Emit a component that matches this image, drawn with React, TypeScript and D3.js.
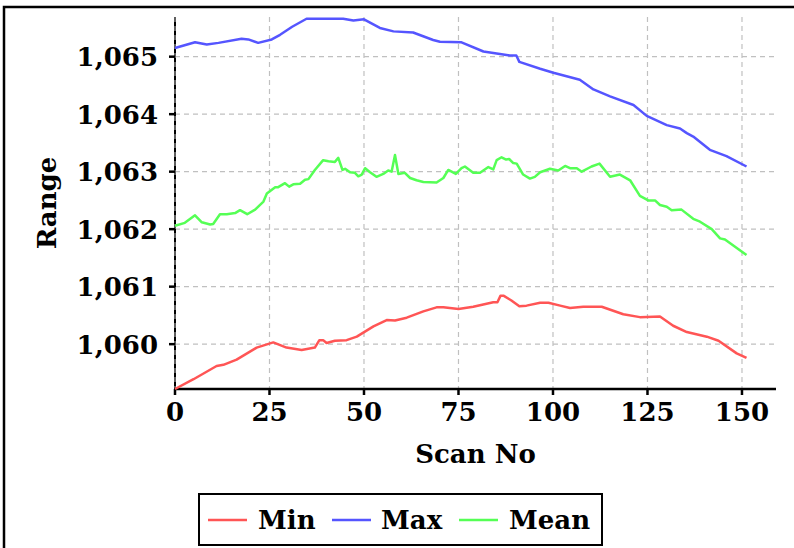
import React from "react";
import * as d3 from "d3";

const xTicks = [0, 25, 50, 75, 100, 125, 150];
const yTicks = [1060, 1061, 1062, 1063, 1064, 1065];
const seriesNames = ["Min", "Max", "Mean"];
const seriesColors = ["#ff5555", "#5555ff", "#55ff55"];

const minScans = [0, 4.9, 11, 12.8, 16.3, 21.6, 26, 29.5, 33.5, 37, 38.2, 39.2, 40.1, 42.3, 45.4, 48.1, 52.5, 56, 58.2, 61.3, 65.7, 69.2, 71, 75, 78.9, 84.2, 85.3, 86.1, 87, 89, 91.1, 93, 96.6, 98.8, 101.9, 104.5, 108, 112.9, 118.6, 123, 128.3, 131.8, 135.4, 140.7, 143.8, 148.6, 151.2];
const minValues = [1059.22, 1059.39, 1059.62, 1059.64, 1059.73, 1059.94, 1060.03, 1059.94, 1059.9, 1059.94, 1060.07, 1060.07, 1060.02, 1060.06, 1060.07, 1060.13, 1060.31, 1060.42, 1060.41, 1060.46, 1060.57, 1060.64, 1060.64, 1060.61, 1060.65, 1060.73, 1060.73, 1060.84, 1060.84, 1060.76, 1060.66, 1060.67, 1060.72, 1060.72, 1060.67, 1060.63, 1060.65, 1060.65, 1060.52, 1060.47, 1060.48, 1060.32, 1060.21, 1060.13, 1060.06, 1059.84, 1059.76];

const maxScans = [0, 5.3, 8.4, 11.5, 17.6, 19.4, 22, 25.6, 27.8, 31, 34.8, 40, 44.5, 47.2, 50, 54.2, 57.8, 63, 68.3, 70.1, 75.8, 81.6, 88.6, 90.3, 91.1, 96.6, 100.1, 107.1, 110.7, 115.1, 121.3, 124.8, 130.1, 133.6, 135.4, 137.1, 141.5, 145.9, 151.2];
const maxValues = [1065.15, 1065.25, 1065.21, 1065.24, 1065.31, 1065.3, 1065.24, 1065.3, 1065.38, 1065.52, 1065.66, 1065.66, 1065.66, 1065.63, 1065.65, 1065.5, 1065.44, 1065.42, 1065.29, 1065.26, 1065.25, 1065.09, 1065.02, 1065.02, 1064.91, 1064.79, 1064.72, 1064.6, 1064.43, 1064.31, 1064.16, 1063.97, 1063.81, 1063.75, 1063.67, 1063.61, 1063.38, 1063.27, 1063.09];

const meanScans = [0, 2.6, 5.3, 7.1, 9.3, 10.1, 11.9, 13.7, 15.9, 17.2, 19.1, 21.2, 23.4, 24.3, 26.5, 27.3, 29.1, 30.2, 31.3, 33.1, 34.4, 35.3, 37, 39.2, 40.6, 42.3, 43.2, 44.3, 45, 46.3, 47.6, 48.5, 49.4, 50.3, 51.6, 53.3, 55.1, 56.4, 57.3, 58.2, 59.1, 60.8, 62.2, 63.9, 65.7, 69.2, 71, 72.3, 74.3, 75.8, 76.7, 78.9, 80.7, 82.9, 84.2, 85.1, 86.4, 87.6, 88.4, 89.5, 90.4, 92.1, 93.9, 95.2, 96.6, 99.2, 101.4, 103.2, 104.5, 106.3, 107.6, 110.2, 112.3, 115.1, 117.7, 120.4, 123, 125.2, 127, 128.3, 130.1, 131.4, 134, 137.1, 138.9, 142, 144.2, 145.5, 151.2];
const meanValues = [1062.06, 1062.11, 1062.24, 1062.12, 1062.08, 1062.09, 1062.26, 1062.26, 1062.28, 1062.33, 1062.26, 1062.34, 1062.48, 1062.62, 1062.73, 1062.73, 1062.8, 1062.74, 1062.78, 1062.79, 1062.86, 1062.87, 1063.03, 1063.2, 1063.18, 1063.17, 1063.24, 1063.03, 1063.05, 1062.99, 1062.98, 1062.92, 1062.95, 1063.06, 1062.99, 1062.91, 1062.96, 1063.02, 1063.0, 1063.29, 1062.96, 1062.98, 1062.89, 1062.85, 1062.82, 1062.81, 1062.89, 1063.03, 1062.96, 1063.06, 1063.09, 1062.98, 1062.98, 1063.08, 1063.04, 1063.2, 1063.25, 1063.21, 1063.22, 1063.15, 1063.14, 1062.95, 1062.88, 1062.91, 1062.99, 1063.05, 1063.02, 1063.1, 1063.06, 1063.06, 1063.0, 1063.09, 1063.14, 1062.91, 1062.95, 1062.85, 1062.58, 1062.5, 1062.5, 1062.42, 1062.39, 1062.33, 1062.34, 1062.18, 1062.13, 1062.0, 1061.84, 1061.82, 1061.55];

const FONT = "'DejaVu Serif', serif";

export default function App() {
  const left = 175, right = 776, top = 17, bottom = 389;
  const x = d3.scaleLinear().domain([0, 159]).range([left, right]);
  const y = d3.scaleLinear().domain([1059.22, 1065.69]).range([bottom, top]);
  const fmt = d3.format(",");
  const series = [
    { scans: minScans, values: minValues },
    { scans: maxScans, values: maxValues },
    { scans: meanScans, values: meanValues },
  ];
  const line = d3
    .line<[number, number]>()
    .x((d) => x(d[0]))
    .y((d) => y(d[1]));

  const legendX = [208, 332, 459];
  const legendTextX = [258, 381, 509];

  return (
    <svg
      width={794}
      height={548}
      style={{ position: "absolute", left: 0, top: 0, background: "#fff" }}
      fontFamily={FONT}
      fontWeight="bold"
    >
      <rect x={0} y={0} width={794} height={548} fill="#fff" />
      <rect x={4} y={7} width={820} height={580} fill="none" stroke="#000" strokeWidth={2.5} />

      {/* grid */}
      {yTicks.map((t) => (
        <line key={"gy" + t} x1={left} x2={right} y1={y(t)} y2={y(t)} stroke="#c0c0c0" strokeWidth={1.2} strokeDasharray="5,4" />
      ))}
      {xTicks.map((t) => (
        <line key={"gx" + t} x1={x(t)} x2={x(t)} y1={top} y2={bottom} stroke="#c0c0c0" strokeWidth={1.2} strokeDasharray="5,4" />
      ))}

      {/* axes */}
      <line x1={left} x2={left} y1={top} y2={bottom} stroke="#000" strokeWidth={2} />
      <line x1={left} x2={left} y1={top} y2={bottom} stroke="#bbb" strokeWidth={1} strokeDasharray="5,4" />
      <line x1={left - 1} x2={right} y1={bottom} y2={bottom} stroke="#000" strokeWidth={2.5} />
      {yTicks.map((t) => (
        <g key={"ty" + t}>
          <line x1={left - 6} x2={left} y1={y(t)} y2={y(t)} stroke="#000" strokeWidth={2.5} />
          <text x={158} y={y(t)} dy="0.36em" textAnchor="end" fontSize={26}>
            {fmt(t)}
          </text>
        </g>
      ))}
      {xTicks.map((t) => (
        <g key={"tx" + t}>
          <line x1={x(t)} x2={x(t)} y1={bottom} y2={bottom + 6} stroke="#000" strokeWidth={2.5} />
          <text x={x(t)} y={421} textAnchor="middle" fontSize={26}>
            {t}
          </text>
        </g>
      ))}
      <text x={475.5} y={463} textAnchor="middle" fontSize={26}>
        Scan No
      </text>
      <text transform={`translate(56,203) rotate(-90)`} textAnchor="middle" fontSize={26}>
        Range
      </text>

      {/* lines */}
      {series.map((s, i) => (
        <path
          key={seriesNames[i]}
          d={line(s.scans.map((v, j) => [v, s.values[j]] as [number, number])) || ""}
          fill="none"
          stroke={seriesColors[i]}
          strokeWidth={2.5}
          strokeLinejoin="round"
        />
      ))}

      {/* legend */}
      <rect x={199} y={494} width={403} height={51} fill="#fff" stroke="#000" strokeWidth={2} />
      {seriesNames.map((n, i) => (
        <g key={"lg" + n}>
          <line x1={legendX[i]} x2={legendX[i] + 39} y1={520} y2={520} stroke={seriesColors[i]} strokeWidth={2.5} />
          <text x={legendTextX[i]} y={529} fontSize={26}>
            {n}
          </text>
        </g>
      ))}
    </svg>
  );
}
